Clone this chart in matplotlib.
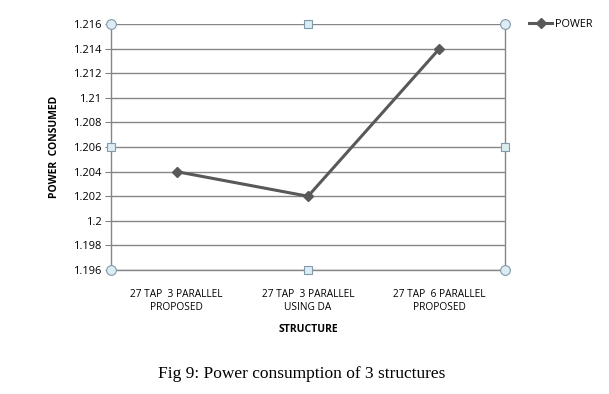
import matplotlib.pyplot as plt
import numpy as np

categories = ['27 TAP  3 PARALLEL\nPROPOSED', '27 TAP  3 PARALLEL\nUSING DA', '27 TAP  6 PARALLEL\nPROPOSED']
power = [1.204, 1.202, 1.214]
yticks = [1.196, 1.198, 1.2, 1.202, 1.204, 1.206, 1.208, 1.21, 1.212, 1.214, 1.216]
ytick_labels = ['1.196', '1.198', '1.2', '1.202', '1.204', '1.206', '1.208', '1.21', '1.212', '1.214', '1.216']

plt.rcParams['font.family'] = ['Open Sans', 'DejaVu Sans']

fig = plt.figure(figsize=(6.09, 3.94), dpi=100)
ax = fig.add_axes([0.1823, 0.3147, 0.647, 0.624])

x = np.arange(len(categories)) + 0.5
ax.plot(x, power, color='#595959', lw=2.2, marker='D', ms=5, label='POWER', zorder=3)

ax.set_xlim(0, 3)
ax.set_ylim(1.196, 1.216)
ax.set_yticks(yticks)
ax.set_yticklabels(ytick_labels, fontsize=8)
ax.set_xticks(x)
ax.set_xticklabels(categories, fontsize=7.3)
ax.tick_params(axis='x', length=0, pad=14)
ax.tick_params(axis='y', length=4, color='#808080', pad=3)
ax.grid(axis='y', color='#868686', lw=1)
for s in ['top', 'right']:
    ax.spines[s].set_visible(False)
ax.spines['left'].set_color('#868686')
ax.spines['bottom'].set_color('#868686')
ax.spines['left'].set_linewidth(1)
ax.spines['bottom'].set_linewidth(1)

ax.set_ylabel('POWER  CONSUMED', fontsize=7.5, fontweight='bold', labelpad=9)
ax.set_xlabel('STRUCTURE', fontsize=7.5, fontweight='bold', labelpad=8)

# selection handles around the plot area
hc = dict(transform=ax.transAxes, clip_on=False, zorder=5, mfc='#dcecf0', mec='#7f9aae', mew=0.8)
for px, py in [(0, 0), (0, 1), (1, 0), (1, 1)]:
    ax.plot(px, py, marker='o', ms=7, **hc)
for px, py in [(0.5, 0), (0.5, 1), (0, 0.5), (1, 0.5)]:
    ax.plot(px, py, marker='s', ms=5.5, **hc)
ax.plot([1, 1], [0, 1], color='#868686', lw=1, transform=ax.transAxes, clip_on=False, zorder=2)

ax.legend(loc='upper left', bbox_to_anchor=(1.035, 1.06), frameon=False, fontsize=7.8,
          handlelength=2.2, handletextpad=0.2)

fig.text(0.496, 0.052, 'Fig 9: Power consumption of 3 structures', ha='center', va='center',
         fontsize=12.5, family='Liberation Serif')

fig.savefig('out.png', dpi=100)
